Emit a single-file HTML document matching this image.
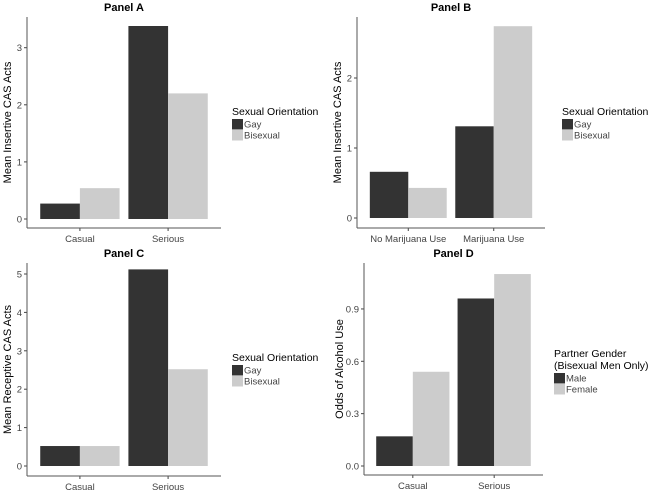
<!DOCTYPE html>
<html><head><meta charset="utf-8"><style>
body{margin:0;background:#fff;}
svg{display:block;font-family:"Liberation Sans",Arial,sans-serif;}
</style></head><body>
<svg id="c" width="650" height="492"></svg>
<script>
const aCats=["Casual","Serious"], aGay=[0.27,3.38], aBi=[0.54,2.20], aTicks=[0,1,2,3];
const bCats=["No Marijuana Use","Marijuana Use"], bGay=[0.66,1.31], bBi=[0.43,2.74], bTicks=[0,1,2];
const cCats=["Casual","Serious"], cGay=[0.52,5.12], cBi=[0.52,2.52], cTicks=[0,1,2,3,4,5];
const dCats=["Casual","Serious"], dMale=[0.17,0.96], dFemale=[0.54,1.10], dTicks=[0.0,0.3,0.6,0.9];
const NS="http://www.w3.org/2000/svg", svg=document.getElementById('c');
function mk(tag,at,parent,txt){const e=document.createElementNS(NS,tag);for(const k in at)e.setAttribute(k,at[k]);if(txt!==undefined)e.textContent=txt;(parent||svg).appendChild(e);return e;}
function panel(o){
  const g=mk('g',{});
  
  
  const y=v=>o.y0-(v-o.vmin)*o.ppu;
  const t=mk('text',{x:(o.ax+o.rx)/2,y:o.top-6,'text-anchor':'middle','font-size':11,'font-weight':'bold',fill:'#000'},g,o.title);
  
  
  const unit=(o.rx-o.ax)/2.2, bw=unit*0.9/2;
  o.cats.forEach((c,i)=>{
    const cx=o.ax+unit*(i+0.6);
    [[o.s1,'#333333'],[o.s2,'#cccccc']].forEach(([s,col],j)=>{
      const x=cx-bw+j*bw, top=y(s[i]);
      const r=mk('rect',{x:x,y:top,width:bw,height:o.y0-top,fill:col},g);
      
      
    });
    mk('line',{x1:cx,x2:cx,y1:o.bx,y2:o.bx+3,stroke:'#444'},g);
    const l=mk('text',{x:cx,y:o.bx+14,'text-anchor':'middle','font-size':9.5,fill:'#444'},g,c);
    
    
  });
  o.ticks.forEach(v=>{
    mk('line',{x1:o.ax-3,x2:o.ax,y1:y(v),y2:y(v),stroke:'#444'},g);
    const l=mk('text',{x:o.ax-5,y:y(v)+3.5,'text-anchor':'end','font-size':9.5,fill:'#444'},g,o.fmt?v.toFixed(1):v);
    
    
  });
  mk('line',{x1:o.ax,x2:o.ax,y1:o.top,y2:o.bx,stroke:'#555'},g);
  mk('line',{x1:o.ax,x2:o.rx,y1:o.bx,y2:o.bx,stroke:'#555'},g);
  const yt=mk('text',{x:0,y:0,transform:`translate(${o.ytx},${(o.top+o.bx)/2}) rotate(-90)`,'text-anchor':'middle','font-size':11,fill:'#000'},g,o.ytitle);
  
  
  let ly=o.ly;
  o.ltitle.forEach(s=>{mk('text',{x:o.lx,y:ly,'font-size':10.5,fill:'#000'},g,s);ly+=12;});
  [[o.l1,'#333333'],[o.l2,'#cccccc']].forEach(([n,col],j)=>{
    const yy=ly-8+j*11;
    const r=mk('rect',{x:o.lx,y:yy,width:11,height:10.5,fill:col},g);
    
    
    const l=mk('text',{x:o.lx+12,y:yy+8.5,'font-size':9.5,fill:'#444'},g,n);
    
    
  });
}
panel({name:'panel-a',title:'Panel A',cats:aCats,s1:aGay,s2:aBi,ticks:aTicks,ax:27,rx:221,top:17,bx:228,y0:219,vmin:0,ppu:57.1,ytx:11,ytitle:'Mean Insertive CAS Acts',lx:232,ly:115,ltitle:['Sexual Orientation'],l1:'Gay',l2:'Bisexual'});
panel({name:'panel-b',title:'Panel B',cats:bCats,s1:bGay,s2:bBi,ticks:bTicks,ax:357,rx:545,top:17,bx:228,y0:218,vmin:0,ppu:70,ytx:341,ytitle:'Mean Insertive CAS Acts',lx:562,ly:115,ltitle:['Sexual Orientation'],l1:'Gay',l2:'Bisexual'});
panel({name:'panel-c',title:'Panel C',cats:cCats,s1:cGay,s2:cBi,ticks:cTicks,ax:27,rx:221,top:263,bx:476,y0:466,vmin:0,ppu:38.4,ytx:11,ytitle:'Mean Receptive CAS Acts',lx:232,ly:361,ltitle:['Sexual Orientation'],l1:'Gay',l2:'Bisexual'});
panel({name:'panel-d',title:'Panel D',cats:dCats,s1:dMale,s2:dFemale,ticks:dTicks,ax:364,rx:543,top:263,bx:475,y0:466,vmin:0,ppu:174.5,fmt:true,ytx:343,ytitle:'Odds of Alcohol Use',lx:554,ly:357,ltitle:['Partner Gender','(Bisexual Men Only)'],l1:'Male',l2:'Female'});
</script>
</body></html>
